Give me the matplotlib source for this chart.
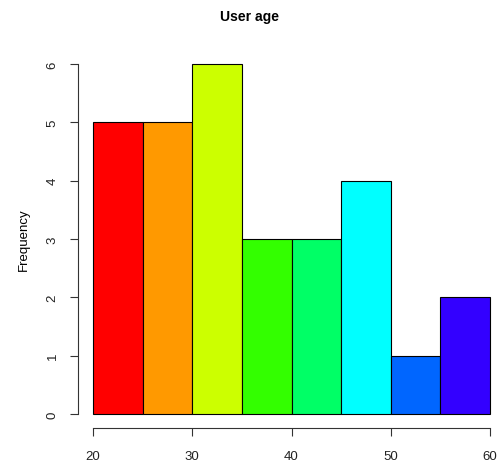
import matplotlib
matplotlib.use("Agg")
import matplotlib.pyplot as plt

# histogram of user ages (R hist, breaks of 5)
bin_edges = [20, 25, 30, 35, 40, 45, 50, 55, 60]
counts = [5, 5, 6, 3, 3, 4, 1, 2]
bar_colors = ["#FF0000", "#FF9900", "#CCFF00", "#33FF00",
              "#00FF66", "#00FFFF", "#0066FF", "#3300FF"]
x_ticks = [20, 30, 40, 50, 60]
y_ticks = [0, 1, 2, 3, 4, 5, 6]

plt.rcParams["font.family"] = ["Liberation Sans", "DejaVu Sans"]

W, H = 500, 464
fig = plt.figure(figsize=(W / 100, H / 100), dpi=100)
# axes box in pixels (left, top, right, bottom)
l, t, r, b = 78, 51, 499, 429
ax = fig.add_axes([l / W, (H - b) / H, (r - l) / W, (b - t) / H])

lefts = bin_edges[:-1]
widths = [bin_edges[i + 1] - bin_edges[i] for i in range(len(counts))]
ax.bar(lefts, counts, width=widths, align="edge", color=bar_colors,
       edgecolor="black", linewidth=0.8)

ax.set_xlim(18.49, 60.9)
ax.set_ylim(-0.24, 6.24)

for s in ["top", "right"]:
    ax.spines[s].set_visible(False)
ax.spines["left"].set_bounds(0, 6)
ax.spines["bottom"].set_bounds(20, 60)
for s in ["left", "bottom"]:
    ax.spines[s].set_color("#333333")
    ax.spines[s].set_linewidth(0.8)

ax.set_xticks(x_ticks)
ax.set_yticks(y_ticks)
ax.tick_params(axis="both", length=6, width=0.8, color="#333333",
               labelsize=9.5, labelcolor="#222222")
ax.tick_params(axis="x", pad=10)
ax.tick_params(axis="y", pad=8)
for lab in ax.get_yticklabels():
    lab.set_rotation(90)
    lab.set_va("center")

ax.set_ylabel("Frequency", fontsize=9.5, labelpad=12)
fig.text(0.5, 1 - 17 / H, "User age", ha="center", va="center",
         fontsize=10, fontweight="bold")

fig.savefig("out.png", dpi=100)
